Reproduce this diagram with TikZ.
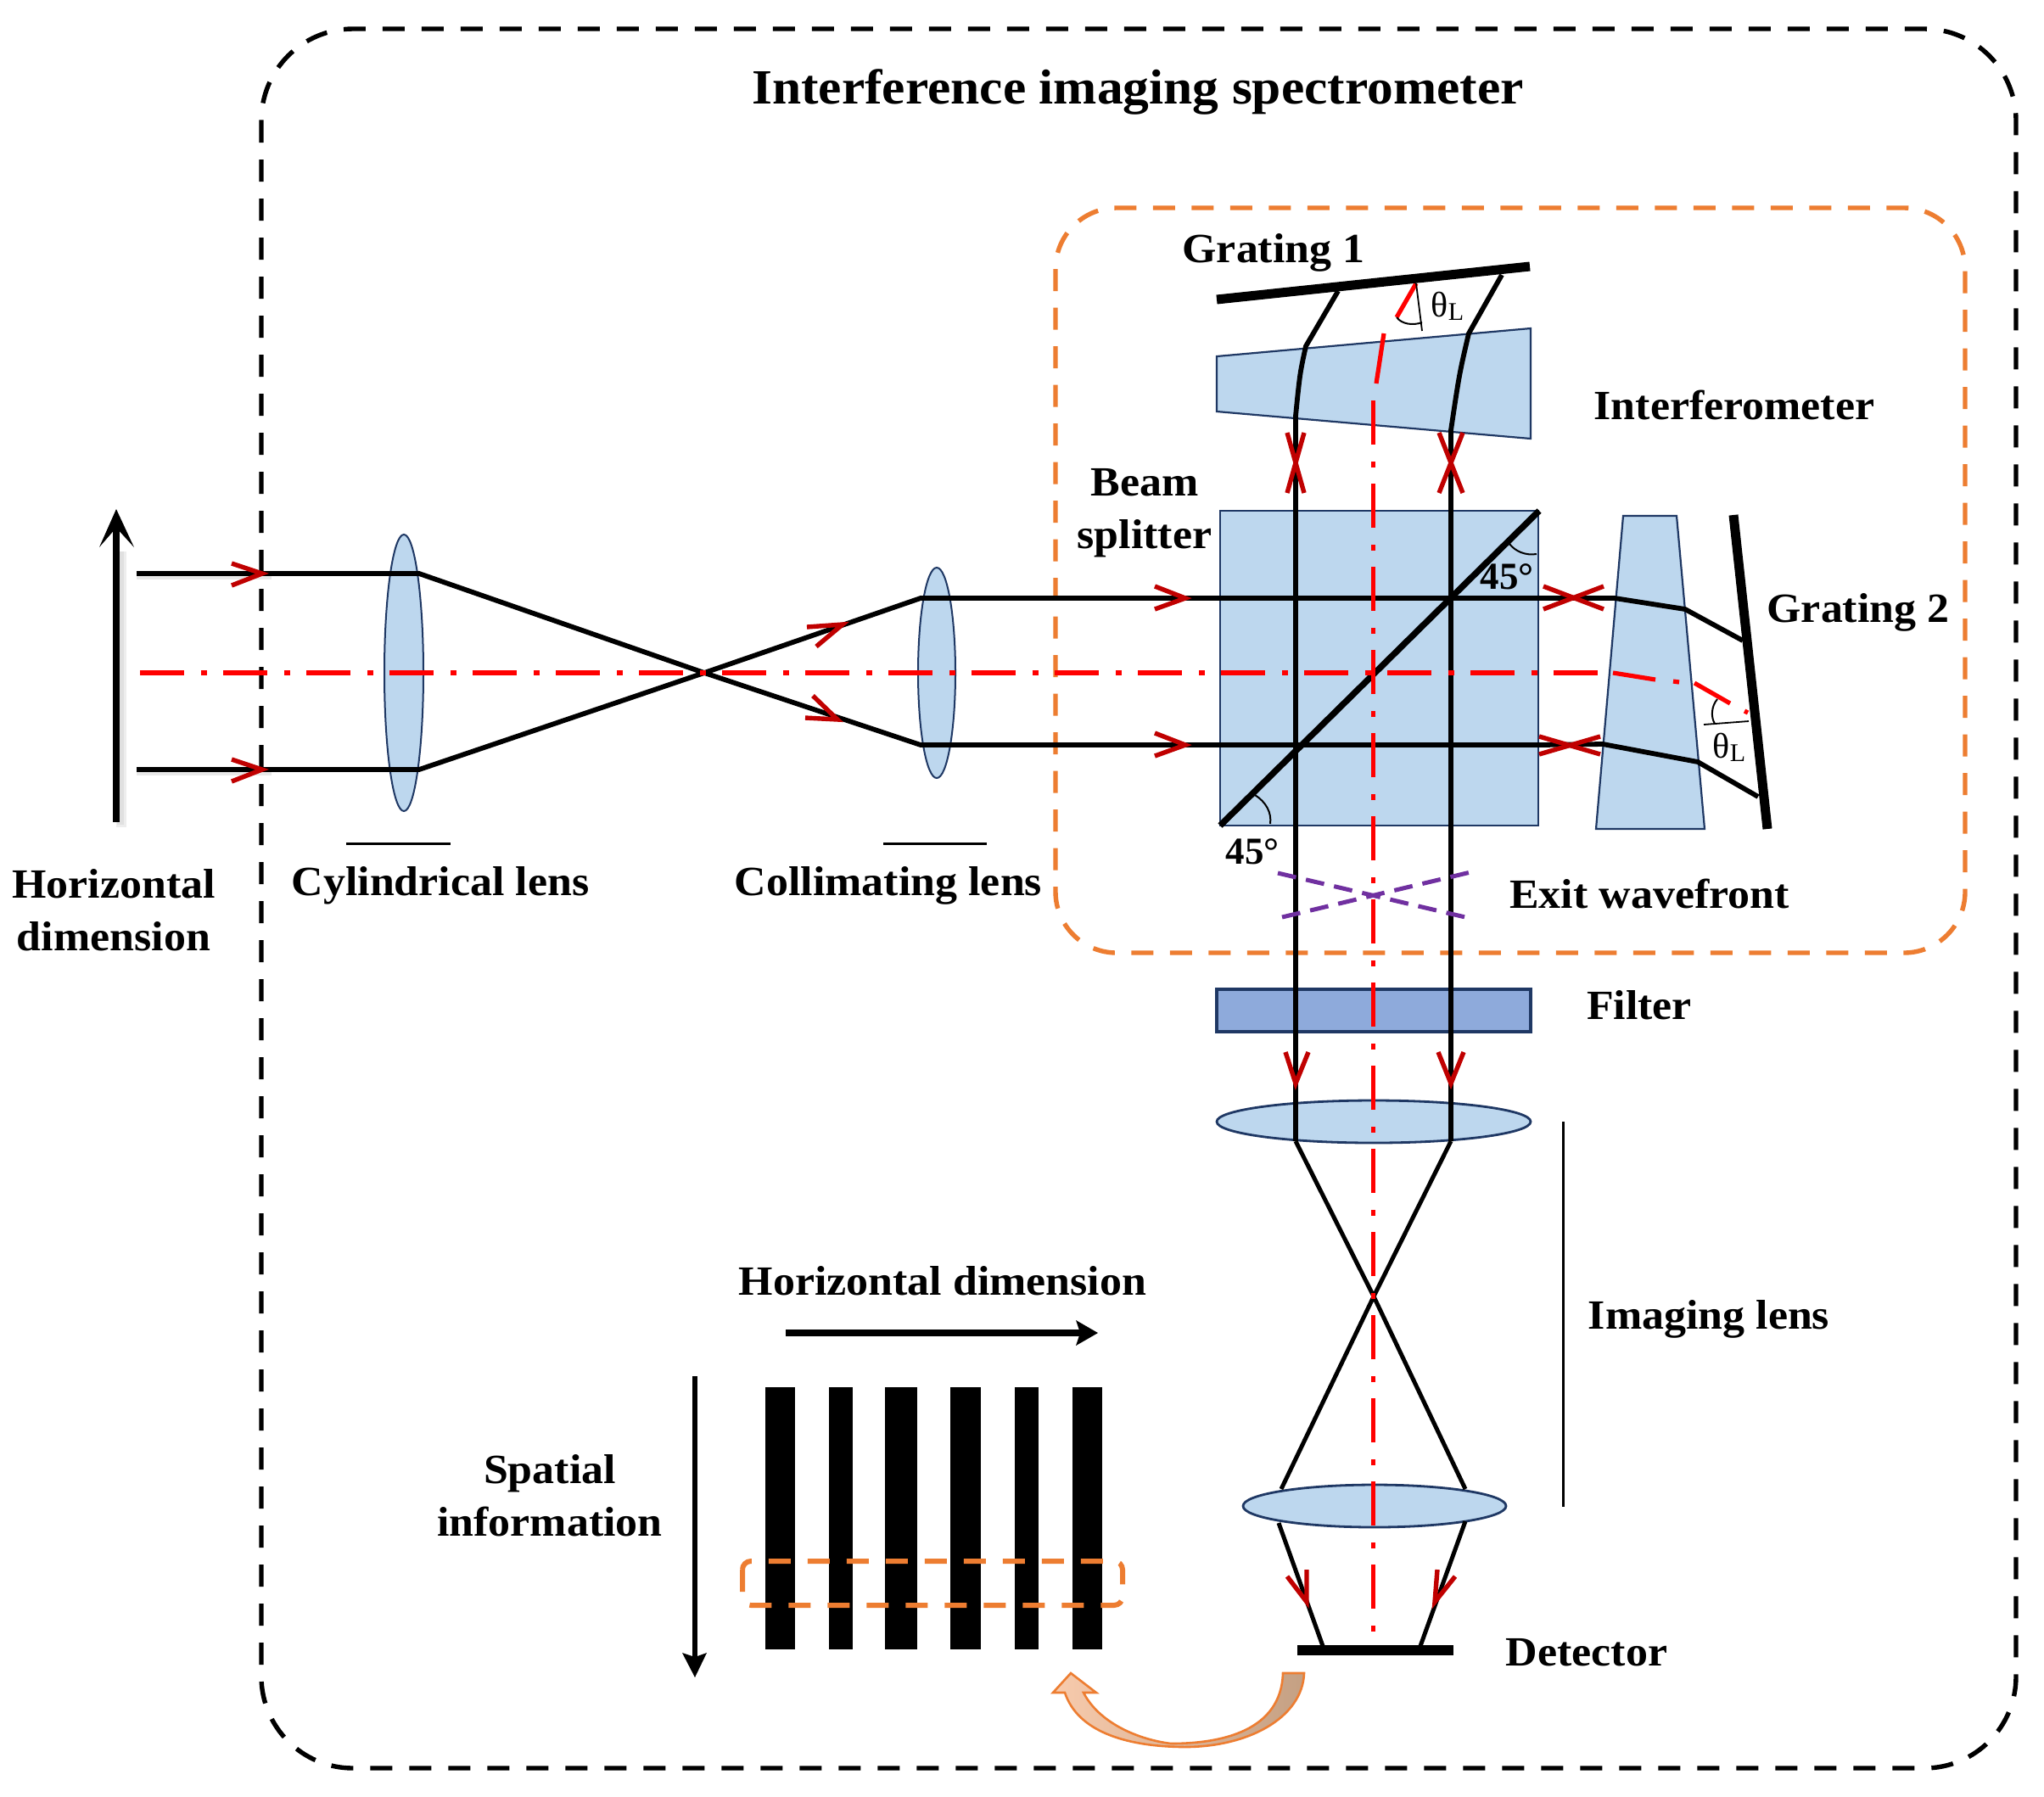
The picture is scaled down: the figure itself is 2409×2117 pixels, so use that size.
\documentclass[tikz,border=0pt]{standalone}
\usepackage{fontspec}
\setmainfont{Liberation Serif}
\newfontfamily\labfont[FakeStretch=1.06]{Liberation Serif}
\definecolor{lensblue}{HTML}{BDD7EE}
\definecolor{filterblue}{HTML}{8EAADB}
\definecolor{navy}{HTML}{1F3864}
\definecolor{orangeline}{HTML}{ED7D31}
\definecolor{chev}{HTML}{C00000}
\definecolor{axisred}{HTML}{FF0000}
\definecolor{purpleline}{HTML}{7030A0}
\definecolor{peach}{HTML}{F8CBAD}
\definecolor{tan1}{HTML}{C4A083}
\tikzset{
  outerbox/.style={draw=black,line width=2.7pt,dash pattern=on 13pt off 10pt,rounded corners=54pt},
  innerbox/.style={draw=orangeline,line width=2.7pt,dash pattern=on 13pt off 9.75pt,rounded corners=36pt},
  lensshape/.style={draw=navy,line width=1pt,fill=lensblue},
  prism/.style={draw=navy,line width=1.1pt,fill=lensblue},
  ray/.style={draw=black,line width=2.9pt,line join=miter},
  thinray/.style={draw=black,line width=2.5pt},
  axis/.style={draw=axisred,line width=2.8pt,dash pattern=on 26pt off 10pt on 3.5pt off 9.5pt},
  axispiece/.style={draw=axisred,line width=2.6pt},
  chevron/.style={draw=chev,line width=2.7pt,line join=miter},
  thinline/.style={draw=black,line width=1.5pt},
  grating/.style={draw=black,line width=5.5pt},
  wave/.style={draw=purpleline,line width=2.5pt,dash pattern=on 11pt off 6pt},
  lab/.style={font=\labfont\fontsize{24.5}{27}\selectfont\bfseries,align=center,inner sep=0pt},
  titlelab/.style={font=\labfont\fontsize{29}{32}\selectfont\bfseries,inner sep=0pt},
  deglab/.style={font=\fontsize{22.5}{24}\selectfont\bfseries,inner sep=0pt},
  thetalab/.style={font=\fontsize{21}{24}\selectfont,inner sep=0pt},
  anglearc/.style={draw=black,line width=1pt},
  barfill/.style={fill=black,draw=none}
}
\newcommand{\thetaL}{θ{\fontsize{15}{15}\selectfont\raisebox{-2pt}{L}}}
\begin{document}
\begin{tikzpicture}[x=0.5pt,y=-0.5pt]
\useasboundingbox (0,0) rectangle (2409,2117);
\fill[white] (0,0) rectangle (2409,2117);

% frames
\draw[outerbox] (308,34) rectangle (2376,2084);
\draw[innerbox] (1244,245) rectangle (2316,1123);

% optical parts
\draw[lensshape] (476,793) ellipse [x radius=23,y radius=163];
\draw[lensshape] (1104,793) ellipse [x radius=22,y radius=124];
\draw[prism] (1438,602) rectangle (1813,973);
\draw[prism] (1434,420) -- (1804,387) -- (1804,517) -- (1434,485) -- cycle;
\draw[prism] (1913,608) -- (1976,608) -- (2009,977) -- (1881,977) -- cycle;
\draw[navy,line width=1.6pt,fill=filterblue] (1434,1166) rectangle (1804,1216);
\draw[lensshape,line width=1.4pt] (1619,1322) ellipse [x radius=185,y radius=25];
\draw[lensshape,line width=1.4pt] (1620,1775) ellipse [x radius=155,y radius=25];

% named ray points
\coordinate (inU) at (161,676);
\coordinate (inL) at (161,907);
\coordinate (cylU) at (494,676);
\coordinate (cylL) at (494,907);
\coordinate (focus) at (830,793);
\coordinate (colU) at (1085,705);
\coordinate (colL) at (1085,878);
\coordinate (bsU) at (1814,705);
\coordinate (bsL) at (1814,878);
\coordinate (bsLL) at (1438,973);
\coordinate (bsUR) at (1814,602);
\coordinate (imgL) at (1527,1345);
\coordinate (imgR) at (1710,1345);
\coordinate (cross) at (1619,1528);
\coordinate (lowUL) at (1510,1755);
\coordinate (lowUR) at (1727,1755);
\coordinate (lowDL) at (1507,1795);
\coordinate (lowDR) at (1727,1793);
\coordinate (detL) at (1559,1940);
\coordinate (detR) at (1674,1940);

% soft shadows
\draw[black!7,line width=6pt] (143,975) -- (143,650);
\draw[black!12,line width=3.6pt] (142,972) -- (142,650);
\draw[black!9,line width=2.4pt] (161,681) -- (320,681);
\draw[black!9,line width=2.4pt] (161,912) -- (320,912);

% main rays
\draw[ray] (inU) -- (cylU) -- (focus) -- (colL) -- (bsL);
\draw[ray] (inL) -- (cylL) -- (focus) -- (colU) -- (bsU);
\draw[ray] (bsU) -- (1903,705) -- (1986,718) -- (2054,755);
\draw[ray] (bsL) -- (1889,877) -- (2001,898) -- (2072,939);
\draw[draw=black,line width=3.7pt] (bsLL) -- (bsUR);
\draw[ray] (1577,343) -- (1539,408) .. controls (1532,440) .. (1527,490) -- (imgL);
\draw[ray] (1770,324) -- (1731,393) .. controls (1720,440) .. (1710,507) -- (imgR);
\draw[thinray] (imgL) -- (cross) -- (lowUR);
\draw[thinray] (imgR) -- (cross) -- (lowUL);
\draw[thinray] (lowDL) -- (detL);
\draw[thinray] (lowDR) -- (detR);

% red axes
\draw[axis] (165,793) -- (1901,793);
\draw[axis] (1618.5,472) -- (1618.5,1945);
\draw[axispiece] (1622,452) -- (1631,393);
\draw[axispiece] (1646,374) -- (1669,334);
\draw[axispiece] (1901,793) -- (1951,801);
\draw[axispiece] (1972,803) -- (1979,804);
\draw[axispiece] (1997,805) -- (2039,829);
\draw[axispiece] (2056,838) -- (2060,840);

% gratings, detector
\draw[grating] (1434,353) -- (1803,314);
\draw[grating] (2043,607) -- (2083,977);
\fill[black] (1529,1939) rectangle (1713,1951);

% angle marks
\draw[thinline,line width=0.9pt] (1669,334) -- (1676,390);
\draw[anglearc] (1646,374) .. controls (1652,382) and (1665,384) .. (1676,380);
\draw[thinline,line width=0.9pt] (2008,854) -- (2061,850);
\draw[anglearc] (2024,824) .. controls (2017,832) and (2016,845) .. (2021,853);
\draw[anglearc] (1479,937) .. controls (1492,945) and (1499,958) .. (1497,971);
\draw[anglearc] (1779,641) .. controls (1786,650) and (1798,655) .. (1811,653);

% red arrow chevrons
\draw[chevron] (273,664) -- (309,676) -- (273,690);
\draw[chevron] (273,895) -- (309,907) -- (273,921);
\draw[chevron] (951,739) -- (993,736) -- (962,762);
\draw[chevron] (949,846) -- (987,848) -- (958,820);
\draw[chevron] (1361,691) -- (1397,705) -- (1361,718);
\draw[chevron] (1361,864) -- (1397,878) -- (1361,891);
\draw[chevron] (1515,1240) -- (1527,1277) -- (1542,1240);
\draw[chevron] (1695,1240) -- (1710,1277) -- (1725,1240);
\draw[chevron] (1517,1858) -- (1540,1888) -- (1540,1850);
\draw[chevron] (1715,1858) -- (1691,1888) -- (1694,1850);
% crossed marks
\draw[chevron] (1517,510) -- (1537,581); \draw[chevron] (1537,510) -- (1517,581);
\draw[chevron] (1696,510) -- (1724,581); \draw[chevron] (1724,510) -- (1696,581);
\draw[chevron] (1819,691) -- (1890,718); \draw[chevron] (1819,718) -- (1890,691);
\draw[chevron] (1814,868) -- (1886,889); \draw[chevron] (1814,889) -- (1886,868);

% exit wavefront
\draw[wave] (1506,1029) -- (1727,1081);
\draw[wave] (1511,1081) -- (1733,1028);

% thin marker lines
\draw[thinline] (408,994) -- (531,994);
\draw[thinline] (1041,994) -- (1163,994);
\draw[thinline] (1842,1322) -- (1842,1776);

% big arrows
\draw[black,line width=3.8pt] (137,968.5) -- (137,620);
\fill[black] (137,600) -- (158,645) -- (137,622) -- (117,645) -- cycle;
\draw[black,line width=3.6pt] (926,1571) -- (1275,1571);
\fill[black] (1294,1571) -- (1268,1556) -- (1273,1571) -- (1268,1586) -- cycle;
\draw[black,line width=2.8pt] (819,1622) -- (819,1955);
\fill[black] (819,1977) -- (804,1948) -- (819,1953) -- (833,1948) -- cycle;

% fringe bars
\fill[barfill] (902,1635) rectangle (937,1944);
\fill[barfill] (977,1635) rectangle (1005,1944);
\fill[barfill] (1043,1635) rectangle (1081,1944);
\fill[barfill] (1120,1635) rectangle (1156,1944);
\fill[barfill] (1196,1635) rectangle (1224,1944);
\fill[barfill] (1264,1635) rectangle (1299,1944);
\draw[draw=orangeline,line width=3pt,dash pattern=on 13pt off 10pt,rounded corners=5pt] (875,1840) rectangle (1323,1892);

% curved arrow
\draw[draw=orangeline,line width=1.3pt,left color=peach,middle color=peach!70!tan1,right color=tan1]
  (1537,1972) .. controls (1535,2025) and (1470,2060) .. (1393,2059)
  .. controls (1325,2058) and (1270,2040) .. (1255,1995)
  -- (1241,1995) -- (1262,1972) -- (1292,1995) -- (1277,1995)
  .. controls (1295,2030) and (1340,2050) .. (1380,2055)
  .. controls (1440,2055) and (1510,2040) .. (1512,1972) -- cycle;

% labels
\node[titlelab] (ttl) at (1341,108) {Interference imaging spectrometer};
\node[lab] (g1) at (1501,298) {Grating 1};
\node[lab] (ifm) at (2044,477) {Interferometer};
\node[lab] (bs) at (1349,605) {Beam\\[4pt]splitter};
\node[lab] (g2) at (2190,722) {Grating 2};
\node[lab] (exw) at (1944,1053) {Exit wavefront};
\node[lab] (flt) at (1932,1185) {Filter};
\node[lab] (iml) at (2014,1555) {Imaging lens};
\node[lab] (det) at (1870,1948) {Detector};
\node[lab] (hd2) at (1111,1510) {Horizontal dimension};
\node[lab] (spi) at (648,1763) {Spatial\\[4pt]information};
\node[lab] (hd1) at (134,1073) {Horizontal\\[4pt]dimension};
\node[lab] (cyl) at (519,1044) {Cylindrical lens};
\node[lab] (col) at (1047,1044) {Collimating lens};
\node[deglab] (a1) at (1776,680) {45°};
\node[deglab] (a2) at (1476,1004) {45°};
\node[thetalab] (t1) at (1706,361) {\thetaL};
\node[thetalab] (t2) at (2038,881) {\thetaL};
\end{tikzpicture}
\end{document}
